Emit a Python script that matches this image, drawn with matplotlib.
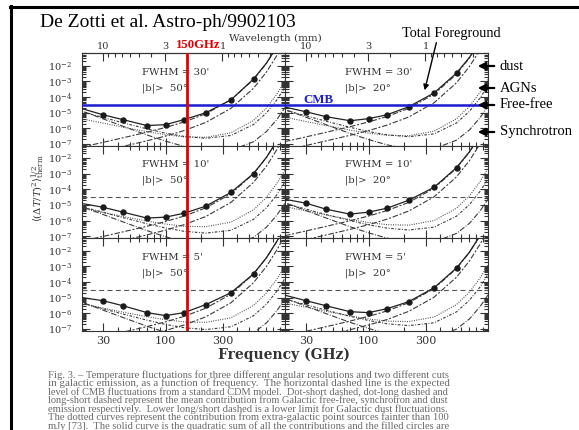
import numpy as np
import matplotlib
matplotlib.use("Agg")
import matplotlib.pyplot as plt
from matplotlib.lines import Line2D
from matplotlib.patches import FancyArrowPatch
from matplotlib.ticker import (FixedLocator, LogLocator, NullFormatter,
                               LogFormatterMathtext, FuncFormatter)

plt.rcParams["mathtext.fontset"] = "dejavuserif"
plt.rcParams["font.family"] = ["DejaVu Serif"]

W, H, DPI = 579, 430, 100

# ---------------------------------------------------------------- data
freq_ghz = [20, 30, 44, 70, 100, 143, 217, 353, 545, 700, 857, 1000]
channel_idx = slice(1, 9)          # 30 ... 545 GHz carry filled circles

cmb_log = -4.5                     # expected CMB level, log10 dT/T
band_ghz = 150                     # highlighted band

fwhm_labels = ["30'", "10'", "5'"]
bcut_labels = ["50°", "20°"]

# log10 <(dT/T)^2>^1/2 ; names: <component>_<fwhm>_<|b| cut>
total_30_50 = [-4.75, -5.14, -5.45, -5.83, -5.77, -5.45, -5.01, -4.19, -2.86, -1.84, -0.78, 0.16]
dust_30_50 = [-7.20, -6.90, -6.61, -6.25, -5.95, -5.60, -5.08, -4.18, -2.90, -1.86, -0.80, 0.15]
dustlo_30_50 = [-7.75, -7.45, -7.16, -6.80, -6.50, -6.15, -5.63, -4.73, -3.45, -2.41, -1.35, -0.40]
ff_30_50 = [-4.95, -5.31, -5.65, -6.04, -6.31, -6.52, -6.64, -6.46, -5.76, -5.02, -4.18, -3.37]
sync_30_50 = [-4.90, -5.40, -5.87, -6.43, -6.82, -7.16, -7.42, -7.41, -6.86, -6.21, -5.43, -4.68]
agn_30_50 = [-5.40, -5.67, -5.93, -6.22, -6.41, -6.55, -6.58, -6.29, -5.50, -4.70, -3.81, -2.97]

total_30_20 = [-4.65, -4.95, -5.26, -5.52, -5.39, -5.14, -4.63, -3.75, -2.48, -1.48, -0.43, 0.50]
dust_30_20 = [-6.85, -6.55, -6.26, -5.90, -5.60, -5.25, -4.73, -3.83, -2.55, -1.51, -0.45, 0.50]
dustlo_30_20 = [-7.40, -7.10, -6.81, -6.45, -6.15, -5.80, -5.28, -4.38, -3.10, -2.06, -1.00, -0.05]
ff_30_20 = [-4.85, -5.21, -5.55, -5.94, -6.21, -6.42, -6.54, -6.36, -5.66, -4.92, -4.08, -3.27]
sync_30_20 = [-4.80, -5.30, -5.77, -6.33, -6.72, -7.06, -7.32, -7.31, -6.76, -6.11, -5.33, -4.58]
agn_30_20 = [-5.30, -5.57, -5.83, -6.12, -6.31, -6.45, -6.48, -6.19, -5.40, -4.60, -3.71, -2.87]

total_10_50 = [-4.90, -5.14, -5.45, -5.83, -5.77, -5.52, -5.07, -4.19, -2.99, -1.95, -0.90, 0.05]
dust_10_50 = [-7.30, -7.00, -6.71, -6.35, -6.05, -5.70, -5.18, -4.28, -3.00, -1.96, -0.90, 0.05]
dustlo_10_50 = [-7.85, -7.55, -7.26, -6.90, -6.60, -6.25, -5.73, -4.83, -3.55, -2.51, -1.45, -0.50]
ff_10_50 = [-5.10, -5.46, -5.80, -6.19, -6.46, -6.67, -6.79, -6.61, -5.91, -5.17, -4.33, -3.52]
sync_10_50 = [-5.10, -5.60, -6.07, -6.63, -7.02, -7.36, -7.62, -7.61, -7.06, -6.41, -5.63, -4.88]
agn_10_50 = [-5.20, -5.47, -5.73, -6.02, -6.21, -6.35, -6.38, -6.09, -5.30, -4.50, -3.61, -2.77]

total_10_20 = [-4.63, -4.88, -5.26, -5.58, -5.45, -5.20, -4.69, -3.87, -2.61, -1.60, -0.55, 0.40]
dust_10_20 = [-6.95, -6.65, -6.36, -6.00, -5.70, -5.35, -4.83, -3.93, -2.65, -1.61, -0.55, 0.40]
dustlo_10_20 = [-7.50, -7.20, -6.91, -6.55, -6.25, -5.90, -5.38, -4.48, -3.20, -2.16, -1.10, -0.15]
ff_10_20 = [-4.90, -5.26, -5.60, -5.99, -6.26, -6.47, -6.59, -6.41, -5.71, -4.97, -4.13, -3.32]
sync_10_20 = [-4.85, -5.35, -5.82, -6.38, -6.77, -7.11, -7.37, -7.36, -6.81, -6.16, -5.38, -4.63]
agn_10_20 = [-5.10, -5.37, -5.63, -5.92, -6.11, -6.25, -6.28, -5.99, -5.20, -4.40, -3.51, -2.67]

total_5_50 = [-5.00, -5.20, -5.52, -5.96, -6.15, -5.96, -5.45, -4.69, -3.49, -2.45, -1.40, -0.45]
dust_5_50 = [-7.80, -7.50, -7.21, -6.85, -6.55, -6.20, -5.68, -4.78, -3.50, -2.46, -1.40, -0.45]
dustlo_5_50 = [-8.35, -8.05, -7.76, -7.40, -7.10, -6.75, -6.23, -5.33, -4.05, -3.01, -1.95, -1.00]
ff_5_50 = [-5.35, -5.71, -6.05, -6.44, -6.71, -6.92, -7.04, -6.86, -6.16, -5.42, -4.58, -3.77]
sync_5_50 = [-5.30, -5.80, -6.27, -6.83, -7.22, -7.56, -7.82, -7.81, -7.26, -6.61, -5.83, -5.08]
agn_5_50 = [-5.40, -5.67, -5.93, -6.22, -6.41, -6.55, -6.58, -6.29, -5.50, -4.70, -3.81, -2.97]

total_5_20 = [-4.85, -5.20, -5.52, -5.90, -5.96, -5.71, -5.26, -4.38, -3.11, -2.10, -1.05, -0.10]
dust_5_20 = [-7.45, -7.15, -6.86, -6.50, -6.20, -5.85, -5.33, -4.43, -3.15, -2.11, -1.05, -0.10]
dustlo_5_20 = [-8.00, -7.70, -7.41, -7.05, -6.75, -6.40, -5.88, -4.98, -3.70, -2.66, -1.60, -0.65]
ff_5_20 = [-5.10, -5.46, -5.80, -6.19, -6.46, -6.67, -6.79, -6.61, -5.91, -5.17, -4.33, -3.52]
sync_5_20 = [-5.05, -5.55, -6.02, -6.58, -6.97, -7.31, -7.57, -7.56, -7.01, -6.36, -5.58, -4.83]
agn_5_20 = [-5.35, -5.62, -5.88, -6.17, -6.36, -6.50, -6.53, -6.24, -5.45, -4.65, -3.76, -2.92]

grid = [
    [(total_30_50, dust_30_50, dustlo_30_50, ff_30_50, sync_30_50, agn_30_50),
     (total_30_20, dust_30_20, dustlo_30_20, ff_30_20, sync_30_20, agn_30_20)],
    [(total_10_50, dust_10_50, dustlo_10_50, ff_10_50, sync_10_50, agn_10_50),
     (total_10_20, dust_10_20, dustlo_10_20, ff_10_20, sync_10_20, agn_10_20)],
    [(total_5_50, dust_5_50, dustlo_5_50, ff_5_50, sync_5_50, agn_5_50),
     (total_5_20, dust_5_20, dustlo_5_20, ff_5_20, sync_5_20, agn_5_20)],
]

caption_lines = [
    "Fig. 3. \u2013 Temperature fluctuations for three different angular resolutions and two different cuts",
    "in galactic emission, as a function of frequency.  The horizontal dashed line is the expected",
    "level of CMB fluctuations from a standard CDM model.  Dot-short dashed, dot-long dashed and",
    "long-short dashed represent the mean contribution from Galactic free-free, synchrotron and dust",
    "emission respectively.  Lower long/short dashed is a lower limit for Galactic dust fluctuations.",
    "The dotted curves represent the contribution from extra-galactic point sources fainter than 100",
    "mJy [73].  The solid curve is the quadratic sum of all the contributions and the filled circles are",
]

# ---------------------------------------------------------------- styles
INK = "#3a3a3a"
styles = {
    "dust": dict(ls=(0, (5.0, 1.6, 1.8, 1.6)), lw=0.8),
    "dustlo": dict(ls=(0, (5.0, 1.6, 1.8, 1.6)), lw=0.8),
    "ff": dict(ls=(0, (0.8, 1.4, 2.4, 1.4)), lw=0.8),
    "sync": dict(ls=(0, (0.8, 1.4, 5.0, 1.4)), lw=0.8),
    "agn": dict(ls=(0, (0.8, 1.3)), lw=0.8),
}

fig = plt.figure(figsize=(W / DPI, H / DPI), dpi=DPI)
fig.patch.set_facecolor("white")


def fx(x):
    return x / W


def fy(y):
    return 1 - y / H


col_x = [82, 285]
col_w = 203
row_y = [53, 145.5, 238]
row_h = 92.5


def inv_wl(v):
    v = np.array(v, dtype=float)
    out = np.full_like(v, np.inf)
    ok = ~np.isclose(v, 0)
    out[ok] = 299.79 / v[ok]
    return out


f = np.array(freq_ghz, dtype=float)
for r in range(3):
    for c in range(2):
        ax = fig.add_axes([fx(col_x[c]), fy(row_y[r] + row_h), col_w / W, row_h / H])
        ax.set_xscale("log")
        ax.set_yscale("log")
        ax.set_xlim(20, 1000)
        ax.set_ylim(10 ** -7.1, 10 ** -1.2)
        total, dust, dustlo, ff, sync, agn = grid[r][c]

        ax.axhline(10 ** cmb_log, color="#555555", lw=0.8, ls=(0, (4.5, 3.0)), zorder=2)
        for key, vals in (("dustlo", dustlo), ("dust", dust), ("ff", ff),
                          ("sync", sync), ("agn", agn)):
            ax.plot(f, np.power(10.0, vals), color=INK, zorder=3, **styles[key])
        tv = np.power(10.0, total)
        ax.plot(f, tv, color="#222222", lw=0.9, zorder=4)
        ax.plot(f[channel_idx], tv[channel_idx], "o", ms=3.6, color="#1a1a1a", zorder=5)

        ax.text(0.295, 0.79, "FWHM = " + fwhm_labels[r], transform=ax.transAxes,
                fontsize=7.3, color="#333333", va="center")
        ax.text(0.295, 0.62, "|b|>  " + bcut_labels[c], transform=ax.transAxes,
                fontsize=7.3, color="#333333", va="center")

        if r == 0:
            ax.axhline(10 ** cmb_log, color="#1c1cd0", lw=1.8, zorder=7)
        if c == 0:
            ax.axvline(band_ghz, color="#e30000", lw=2.0, zorder=8)

        for s in ax.spines.values():
            s.set_linewidth(0.8)
            s.set_color("#333333")

        ax.xaxis.set_major_locator(FixedLocator([30, 100, 300]))
        ax.xaxis.set_minor_locator(FixedLocator([40, 50, 60, 70, 80, 90, 200, 400,
                                                 500, 600, 700, 800, 900]))
        ax.xaxis.set_minor_formatter(NullFormatter())
        ax.xaxis.set_major_formatter(FuncFormatter(lambda v, p: f"{v:g}"))
        ax.yaxis.set_major_locator(LogLocator(base=10, numticks=20))
        ax.yaxis.set_minor_locator(LogLocator(base=10, subs=np.arange(2, 10), numticks=20))
        ax.yaxis.set_minor_formatter(NullFormatter())
        ax.yaxis.set_major_formatter(LogFormatterMathtext())
        ax.tick_params(which="both", direction="in", top=(r != 0), right=True,
                       left=True, bottom=True, width=0.8, colors="#333333",
                       labelsize=7)
        ax.tick_params(which="major", length=5.5)
        ax.tick_params(which="minor", length=3.0)
        ax.tick_params(axis="y", pad=7, labelleft=(c == 0))
        ax.tick_params(axis="x", pad=4, labelbottom=(r == 2), labelsize=8)

        if r == 0:
            sec = ax.secondary_xaxis("top", functions=(inv_wl, inv_wl))
            sec.xaxis.set_major_locator(FixedLocator([10, 3, 1]))
            sec.xaxis.set_minor_locator(FixedLocator([9, 8, 7, 6, 5, 4, 2, 0.9, 0.8,
                                                      0.7, 0.6, 0.5, 0.4]))
            sec.xaxis.set_major_formatter(FuncFormatter(lambda v, p: f"{v:g}"))
            sec.xaxis.set_minor_formatter(NullFormatter())
            sec.tick_params(which="both", direction="in", width=0.8,
                            colors="#333333", labelsize=7, pad=1.5)
            sec.tick_params(which="major", length=5.5)
            sec.tick_params(which="minor", length=3.0)
            sec.spines["top"].set_linewidth(0.8)
            sec.spines["top"].set_color("#333333")

# ---------------------------------------------------------------- labels
fig.text(fx(275), fy(38), "Wavelength (mm)", fontsize=7.5, color="#333333",
         ha="center", va="center")
fig.text(fx(284), fy(355), "Frequency (GHz)", fontsize=10, fontweight="bold",
         color="#333333", ha="center", va="center")
fig.text(fx(38), fy(188), r"$\langle(\Delta T/T)^2\rangle^{1/2}_{\rm therm}$",
         fontsize=7.2, rotation=90, color="#333333", ha="center", va="center")

serif = ["Liberation Serif", "DejaVu Serif"]
fig.text(fx(40), fy(27), "De Zotti et al. Astro-ph/9902103", family=serif,
         fontsize=14, ha="left", va="baseline")
fig.text(fx(198), fy(45), "150GHz", family=serif, fontsize=9.2, fontweight="bold",
         color="#e30000", ha="center", va="center")
fig.text(fx(318), fy(100), "CMB", family=serif, fontsize=9.3, fontweight="bold",
         color="#1c1cd0", ha="center", va="center")
fig.text(fx(402), fy(37), "Total Foreground", family=serif, fontsize=10.3,
         ha="left", va="baseline")

for label, y in (("dust", 66), ("AGNs", 88), ("Free-free", 105), ("Synchrotron", 132)):
    fig.text(fx(500), fy(y), label, family=serif, fontsize=10.5, ha="left",
             va="center")
    fig.add_artist(FancyArrowPatch((fx(497), fy(y)), (fx(475), fy(y)),
                                   transform=fig.transFigure, arrowstyle="-|>",
                                   mutation_scale=11, lw=1.6, color="black"))
fig.add_artist(FancyArrowPatch((fx(437), fy(40)), (fx(424), fy(93)),
                               transform=fig.transFigure, arrowstyle="-|>",
                               mutation_scale=8, lw=1.0, color="black"))

# outer frame
fig.add_artist(Line2D([fx(10), fx(580)], [fy(7), fy(7)], transform=fig.transFigure,
                      color="black", lw=2.2))
fig.add_artist(Line2D([fx(11), fx(11)], [fy(6), fy(432)], transform=fig.transFigure,
                      color="black", lw=2.2))

# caption block
cap_texts = []
for i, line in enumerate(caption_lines):
    t = fig.text(fx(48), fy(375 + 8.5 * i), line, family=serif, fontsize=6.0,
                 color="#6a6a6a", ha="left", va="center")
    cap_texts.append(t)
fig.canvas.draw()
rend = fig.canvas.get_renderer()
for t in cap_texts:
    w = t.get_window_extent(rend).width
    t.set_fontsize(t.get_fontsize() * 407.0 / w)

fig.savefig("out.png", dpi=DPI, facecolor="white")
